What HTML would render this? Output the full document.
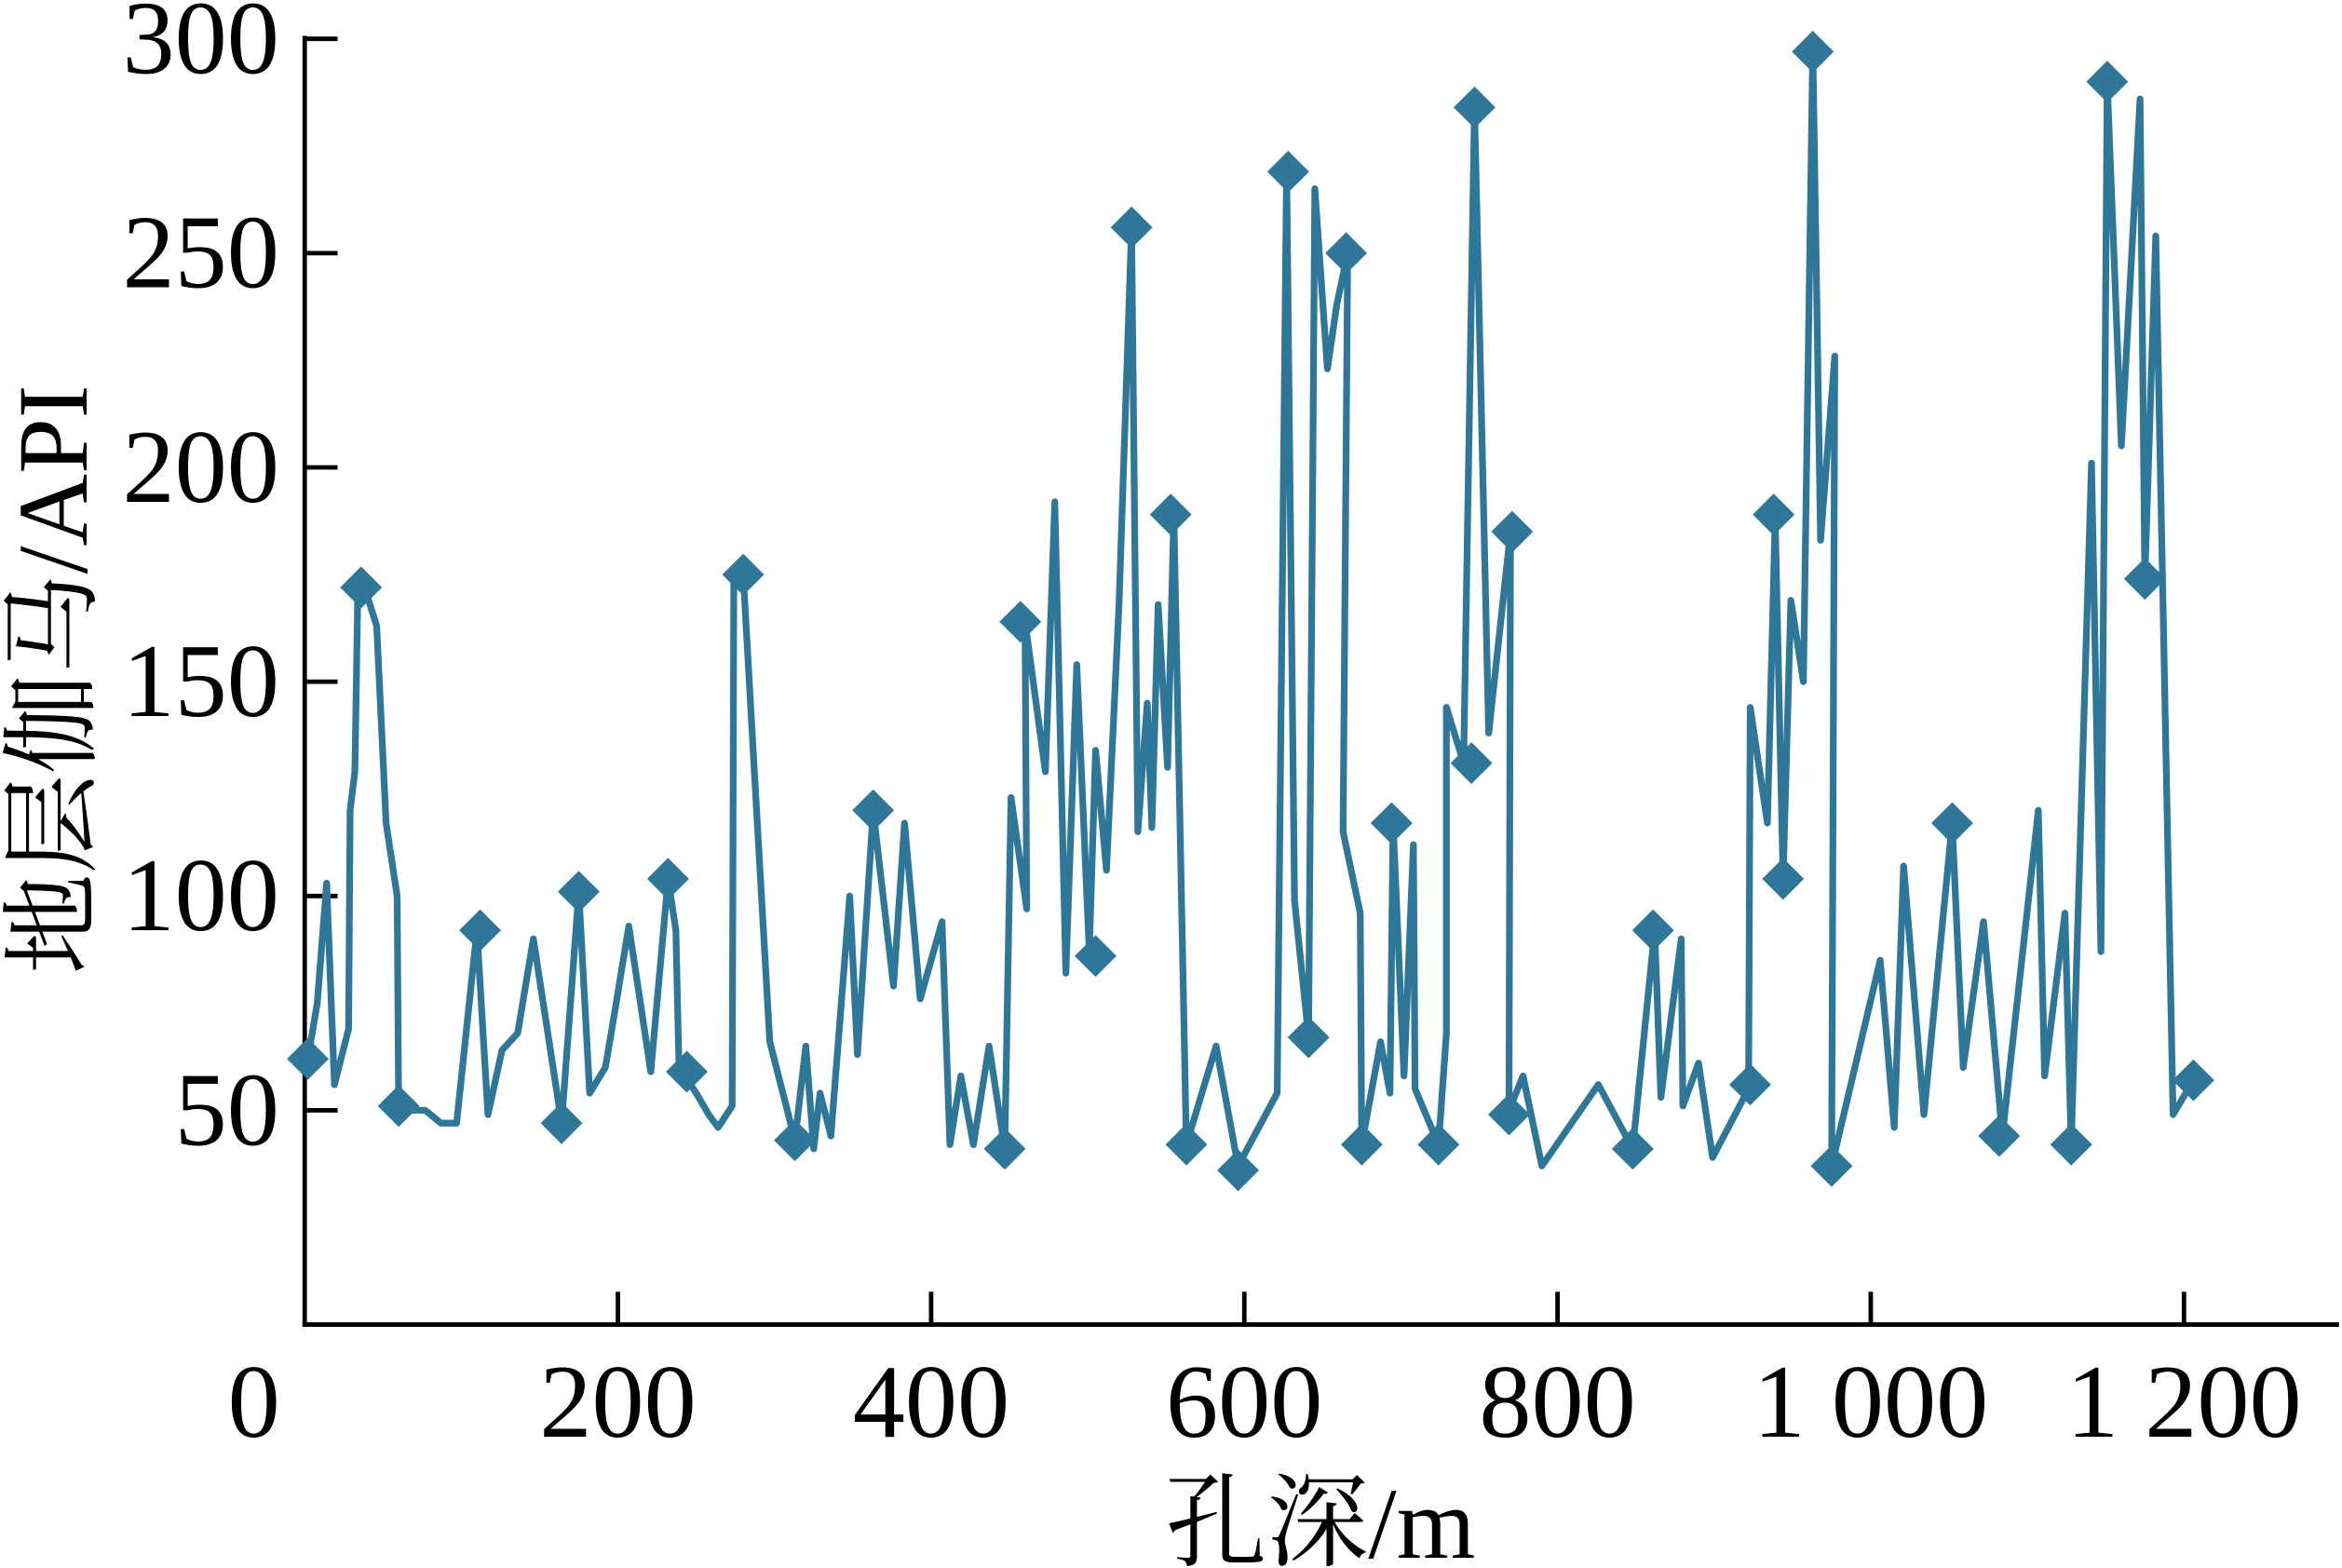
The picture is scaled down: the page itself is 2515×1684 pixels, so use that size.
<!DOCTYPE html>
<html><head><meta charset="utf-8"><style>
html,body{margin:0;padding:0;background:#fff;}
svg{display:block;}
text{font-family:"Liberation Serif","Noto Serif CJK SC",serif;fill:#000;}
</style></head><body>
<svg id="chart" width="2515" height="1684" viewBox="0 0 1568 1050" preserveAspectRatio="none" xmlns="http://www.w3.org/2000/svg">
<g id="axes"></g>
<g id="series"></g>
<text transform="translate(58,455) rotate(-90)" text-anchor="middle" font-size="67">地层伽马/API</text>
<text x="884" y="1043" text-anchor="middle" font-size="68">孔深/m</text>
</svg>
<script>
const depths=[2,8,14,19,28,29,32,34,40,46,52,59,60,69,77,87,97,110,117,126,136,146,164,175,182,192,198,207,221,232,237,239,250,258,264,273,274,280,287,297,313,320,325,329,336,348,353,363,376,383,393,407,412,419,427,437,447,451,461,460,473,479,486,493,501,505,512,520,528,532,538,541,545,551,555,563,582,596,621,627,632,641,645,653,659,666,663,674,675,687,693,695,702,708,709,724,729,729,740,747,756,770,769,778,790,826,848,862,866,879,880,890,899,922,923,934,939,944,949,957,963,968,977,975,1006,1015,1021,1034,1052,1059,1072,1084,1107,1111,1124,1128,1141,1147,1151,1160,1172,1175,1182,1193,1206];
const gammaValues=[62,75,103,56,69,120,129,172,170,163,117,100,51,50,50,47,47,92,49,64,68,90,47,101,54,60,73,93,59,104,92,60,54,49,46,51,175,175,130,66,43,65,41,54,44,100,63,120,79,117,76,94,42,58,42,65,41,123,97,164,129,192,82,154,87,134,106,168,256,115,145,116,168,130,189,42,65,37,54,270,99,67,265,223,238,250,115,96,42,66,54,117,58,112,55,42,68,144,131,284,138,185,50,58,37,56,41,92,53,90,51,61,39,55,144,117,188,104,169,150,298,183,226,37,85,46,107,49,117,60,94,44,120,58,96,42,201,87,290,205,286,174,254,49,57];
const markerDepths=[2,36,60,112,164,175,232,244,280,313,363,447,457,505,528,553,563,596,628,641,665,675,694,724,745,747,771,769,848,861,923,938,944,963,975,1052,1082,1128,1151,1175,1206];
const markerValues=[62,172,51,92,47,101,104,59,175,43,120,41,164,86,256,189,42,36,269,67,250,42,117,42,131,284,185,49,41,92,56,189,104,297,37,117,44,42,290,174,57];
const xTicks=[0,200,400,600,800,1000,1200];
const xTickLabels=["0","200","400","600","800","1 000","1 200"];
const yTicks=[50,100,150,200,250,300];
const NS="http://www.w3.org/2000/svg";
const X0=204,XS=1.0485,Y0=887,YS=2.87;
function xs(d){return X0+d*XS;}
function ys(v){return Y0-v*YS;}
const axes=document.getElementById('axes');
const series=document.getElementById('series');
function mk(tag,attrs,parent){const e=document.createElementNS(NS,tag);for(const k in attrs)e.setAttribute(k,attrs[k]);parent.appendChild(e);return e;}
let yl=mk('line',{x1:X0,y1:Y0,x2:X0,y2:24,stroke:'#000','stroke-width':3},axes);


let xl=mk('line',{x1:X0-1.5,y1:Y0,x2:1566,y2:Y0,stroke:'#000','stroke-width':3},axes);


xTicks.forEach((t,i)=>{
  const x=xs(t);
  if(t>0){const tk=mk('line',{x1:x,y1:Y0,x2:x,y2:Y0-22,stroke:'#000','stroke-width':3},axes);
  
  }
  const tx=mk('text',{x:x-(t===0?34:0),y:962,'text-anchor':'middle','font-size':70},axes);
  tx.textContent=xTickLabels[i];
  
  
});
yTicks.forEach(t=>{
  const y=ys(t);
  const tk=mk('line',{x1:X0,y1:y,x2:X0+22,y2:y,stroke:'#000','stroke-width':3},axes);
  
  
  const tx=mk('text',{x:187,y:y+23,'text-anchor':'end','font-size':70},axes);
  tx.textContent=String(t);
  
  
});
const pts=depths.map((d,i)=>xs(d).toFixed(1)+','+ys(gammaValues[i]).toFixed(1)).join(' ');
const pl=mk('polyline',{points:pts,fill:'none',stroke:'#2f7798','stroke-width':4.5,'stroke-linejoin':'round','stroke-linecap':'round'},series);


markerDepths.forEach((d,i)=>{
  const x=xs(d),y=ys(markerValues[i]),r=14;
  const p=mk('polygon',{points:`${x},${y-r} ${x+r},${y} ${x},${y+r} ${x-r},${y}`,fill:'#2f7798'},series);
  
  
});
</script>
</body></html>
